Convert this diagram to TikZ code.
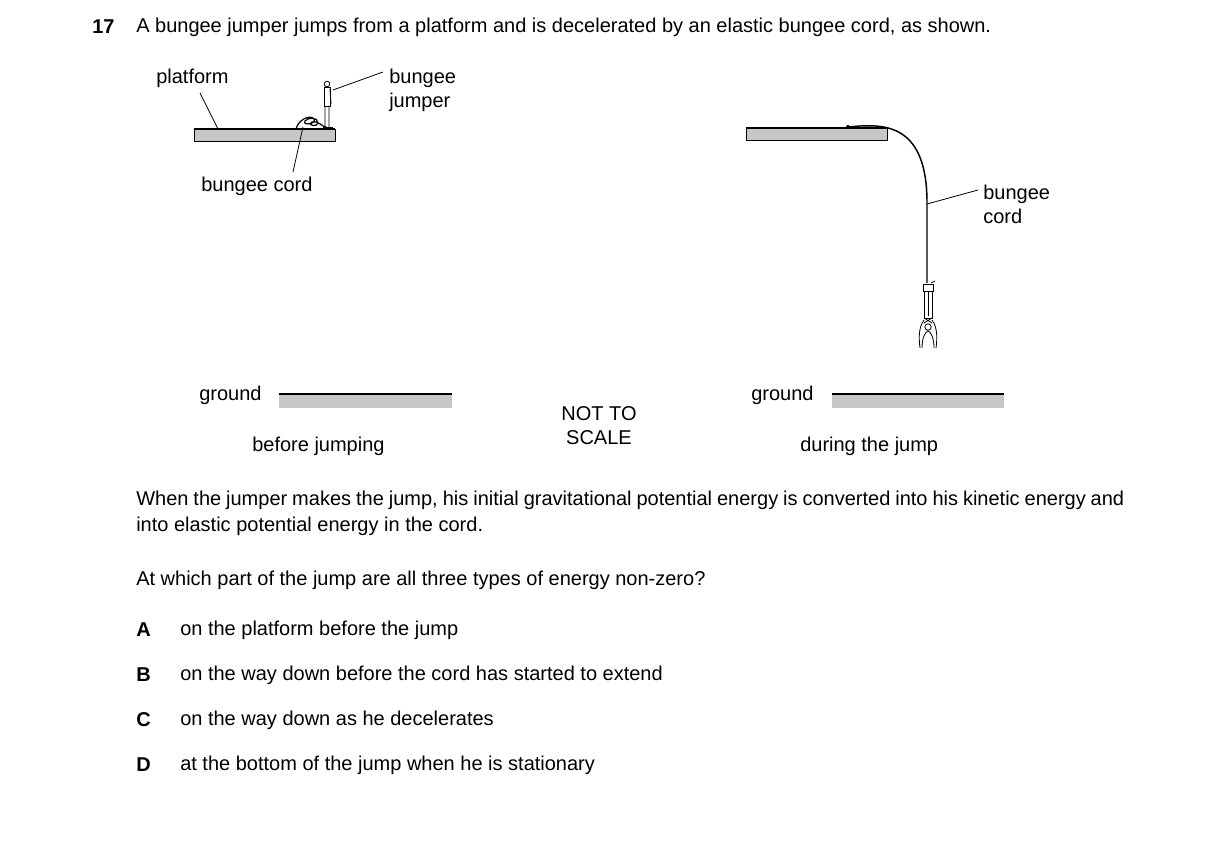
\documentclass[tikz,border=0pt]{standalone}
\usepackage{fontspec}
\setmainfont{Liberation Sans}
\begin{document}
\begin{tikzpicture}[x=0.75pt,y=-0.75pt,
  txt/.style={anchor=west,inner sep=0pt,font=\fontsize{15}{18}\selectfont},
  lead/.style={line width=0.6pt},
  plat/.style={fill=black!22,draw=black,line width=0.7pt},
  grd/.style={fill=black!22,draw=none}]
\useasboundingbox (0,0) rectangle (1216,863);
% title
\node[txt,font=\fontsize{15}{18}\selectfont\bfseries] (num) at (92,27) {17};
\node[txt] (title) at (136,27) {A bungee jumper jumps from a platform and is decelerated by an elastic bungee cord, as shown.};
% left figure
\draw[plat] (194,129) rectangle (335,141);
\draw[line width=1.5pt] (194,129) -- (335,129);
\node[txt] (lplat) at (156,78) {platform};
\draw[lead] (200,93) -- (218,129);
\node[txt,align=left] (ljump) at (389,90) {bungee\\jumper};
\draw[lead] (333,90) -- (383,72);
\node[txt] (lcord) at (201,186) {bungee cord};
\draw[lead] (303,127) -- (293,172);
% coil of cord
\draw[line width=0.9pt] (296,129) .. controls (298,120) and (310,114) .. (314,119) .. controls (317,124) and (302,126) .. (305,121) .. controls (308,117) and (318,117) .. (318,123) .. controls (318,127) and (306,126) .. (312,122) .. controls (318,120) and (322,127) .. (328,128);
% standing jumper
\draw[line width=0.6pt] (327,84) circle (2.8);
\draw[line width=0.6pt,fill=white] (324,87) rectangle (330,106);
\draw[line width=0.6pt] (325,106) -- (325,127) (329,106) -- (329,127) (330,89) -- (331,104);
\draw[line width=0.6pt] (323,127) -- (333,127);
% ground left
\node[txt] (lg) at (199,395) {ground};
\fill[grd] (279,395) rectangle (452,408);
\draw[line width=1.2pt] (279,394) -- (452,394);
\node[txt] (lb) at (252,446) {before jumping};
% centre
\node[align=center,inner sep=0pt,font=\fontsize{15}{18}\selectfont] (nts) at (599,426) {NOT TO\\SCALE};
% right figure
\draw[plat] (746,128) rectangle (887,140);
\draw[line width=1.5pt] (746,128) -- (887,128);
\coordinate (cs) at (848,127);
\coordinate (ce) at (927,283);
\fill (cs) circle (2);
\draw[line width=1.1pt] (cs) .. controls (880,124) and (926,120) .. (927,200) -- (ce);
\node[txt,align=left] (rcord) at (983,204) {bungee\\cord};
\draw[lead] (927,204) -- (978,190);
% hanging jumper
\draw[line width=0.6pt,fill=white] (923,284) rectangle (933,291);
\draw[line width=0.6pt,fill=white] (924,291) rectangle (932,318);
\draw[line width=0.6pt] (928,291) -- (928,316);
\draw[line width=0.6pt] (931,283) -- (935,281);
\draw[line width=0.6pt,fill=white] (928,327) circle (3.2);
\draw[line width=0.6pt] (924,318) -- (932,323) (932,318) -- (924,323);
\draw[line width=0.6pt] (924,320) .. controls (918,328) and (919,340) .. (920,348);
\draw[line width=0.6pt] (932,320) .. controls (938,328) and (937,340) .. (936,348);
\draw[line width=0.6pt] (922,348) .. controls (922,338) and (925,332) .. (928,331);
\draw[line width=0.6pt] (934,348) .. controls (934,338) and (931,332) .. (928,331);
% ground right
\node[txt] (rg) at (751,395) {ground};
\fill[grd] (832,395) rectangle (1004,408);
\draw[line width=1.2pt] (832,394) -- (1004,394);
\node[txt] (rb) at (800,446) {during the jump};
% paragraph
\node[anchor=north west,inner sep=0pt,text width=741pt,align=justify,font=\fontsize{15}{19.5}\selectfont] (para) at (136,491) {When the jumper makes the jump, his initial gravitational potential energy is converted into his kinetic energy and into elastic potential energy in the cord.};
\node[txt] (q) at (136,580) {At which part of the jump are all three types of energy non-zero?};
\node[txt,font=\fontsize{15}{18}\selectfont\bfseries] (la) at (136,630) {A};
\node[txt] (ta) at (180,630) {on the platform before the jump};
\node[txt,font=\fontsize{15}{18}\selectfont\bfseries] (lbb) at (136,675) {B};
\node[txt] (tb) at (180,675) {on the way down before the cord has started to extend};
\node[txt,font=\fontsize{15}{18}\selectfont\bfseries] (lc) at (136,720) {C};
\node[txt] (tc) at (180,720) {on the way down as he decelerates};
\node[txt,font=\fontsize{15}{18}\selectfont\bfseries] (ld) at (136,765) {D};
\node[txt] (td) at (180,765) {at the bottom of the jump when he is stationary};
\end{tikzpicture}
\end{document}
